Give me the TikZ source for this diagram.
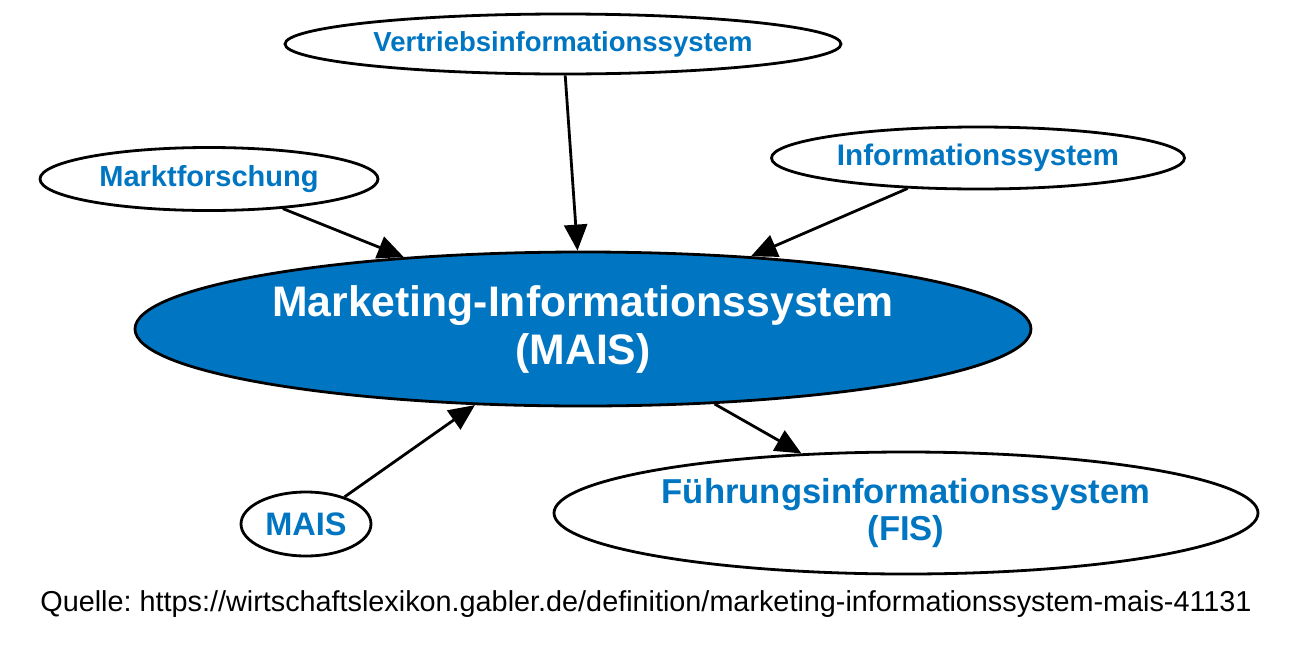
\documentclass[tikz,border=0pt]{standalone}
\usepackage{fontspec}
\setmainfont{Liberation Sans}
\usetikzlibrary{shapes.geometric,arrows.meta}
\definecolor{gblue}{RGB}{0,118,194}
\frenchspacing
\tikzset{
  oval/.style={ellipse, draw=black, line width=2.8pt, inner sep=0pt, fill=white, text=gblue, font=\bfseries, align=center},
  conn/.style={line width=2.8pt, -{Triangle[length=26pt,width=23pt]}},
}
\begin{document}
\begin{tikzpicture}[x=1pt,y=-1pt]
\useasboundingbox (0,0) rectangle (1300,651);
\node[oval, minimum width=556pt, minimum height=60pt, font=\bfseries\fontsize{27.5}{32}\selectfont] (vert) at (563,44) {Vertriebsinformationssystem};
\node[oval, minimum width=338pt, minimum height=63pt, font=\bfseries\fontsize{29}{33}\selectfont] (markt) at (209,179) {Marktforschung};
\node[oval, minimum width=413pt, minimum height=62pt, font=\bfseries\fontsize{29.7}{33}\selectfont] (info) at (978,158) {Informationssystem};
\node[oval, minimum width=896pt, minimum height=154pt, fill=gblue, text=white, font=\bfseries\fontsize{42.7}{48}\selectfont] (main) at (583,329) {Marketing-Informationssystem\\(MAIS)};
\node[oval, minimum width=130pt, minimum height=64pt, font=\bfseries\fontsize{32.5}{36}\selectfont] (mais) at (306,524) {MAIS};
\node[oval, minimum width=704pt, minimum height=122pt, font=\bfseries\fontsize{34.6}{37}\selectfont] (fis) at (906,513) {Führungsinformationssystem\\(FIS)};
\node[font=\fontsize{28.8}{32}\selectfont, inner sep=0pt] (src) at (646,604) {Quelle: https://wirtschaftslexikon.gabler.de/definition/marketing-informationssystem-mais-41131};
\draw[conn] (vert) -- (main);
\draw[conn] (markt) -- (main);
\draw[conn] (info) -- (main);
\draw[conn] (mais) -- (main);
\draw[conn] (main) -- (fis);
\end{tikzpicture}
\end{document}
